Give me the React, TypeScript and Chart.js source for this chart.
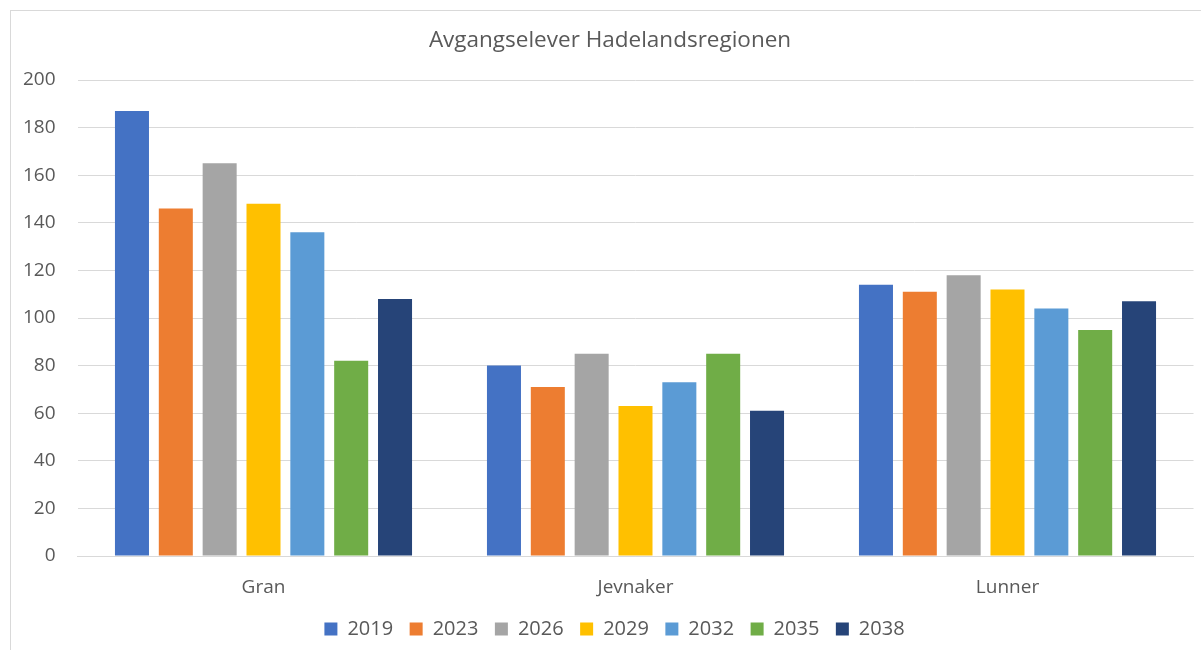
import React, { useEffect, useRef } from "react";
import { Chart, registerables } from "chart.js";

Chart.register(...registerables);

const categories = ["Gran", "Jevnaker", "Lunner"];
const years = ["2019", "2023", "2026", "2029", "2032", "2035", "2038"];
const v2019 = [187, 80, 114];
const v2023 = [146, 71, 111];
const v2026 = [165, 85, 118];
const v2029 = [148, 63, 112];
const v2032 = [136, 73, 104];
const v2035 = [82, 85, 95];
const v2038 = [108, 61, 107];
const colors = ["#4472C4", "#ED7D31", "#A5A5A5", "#FFC000", "#5B9BD5", "#70AD47", "#264478"];
const yTicks = [0, 20, 40, 60, 80, 100, 120, 140, 160, 180, 200];

const FONT = "'Open Sans', 'Noto Sans', sans-serif";

const shiftBoxes = {
  id: "shiftBoxes",
  afterLayout(chart: any) {
    const t = chart.titleBlock;
    if (t) { t.left += 7.75; t.right += 7.75; }
    const l = chart.legend;
    if (l) { l.left += 12.25; l.right += 12.25; }
  },
};

export default function App() {
  const ref = useRef<HTMLCanvasElement | null>(null);
  useEffect(() => {
    if (!ref.current) return;
    const series = [v2019, v2023, v2026, v2029, v2032, v2035, v2038];
    const chart = new Chart(ref.current, {
      type: "bar",
      data: {
        labels: categories,
        datasets: years.map((y, i) => ({
          label: y,
          data: series[i],
          backgroundColor: colors[i],
          borderWidth: 0,
          categoryPercentage: 0.825,
          barPercentage: 0.776,
        })),
      },
      plugins: [shiftBoxes],
      options: {
        animation: false,
        responsive: false,
        maintainAspectRatio: false,
        layout: { padding: { left: 0, right: 7.5, top: 0, bottom: 1 } },
        plugins: {
          title: {
            display: true,
            text: "Avgangselever Hadelandsregionen",
            color: "#595959",
            font: { family: FONT, size: 22.5, weight: "normal" },
            padding: { top: 16, bottom: 26 },
          },
          legend: {
            position: "bottom",
            labels: {
              color: "#595959",
              font: { family: FONT, size: 20 },
              boxWidth: 13,
              boxHeight: 13,
              padding: 16.5,
            },
          },
          tooltip: { enabled: false },
        },
        scales: {
          x: {
            grid: { display: false, drawTicks: false },
            border: { display: true, color: "#d9d9d9", width: 1 },
            ticks: { color: "#595959", font: { family: FONT, size: 19 }, padding: 20 },
            afterFit: (s: any) => { s.height = 46.5; },
          },
          y: {
            min: 0,
            max: 200,
            afterBuildTicks: (s: any) => { s.ticks = yTicks.map((v) => ({ value: v })); },
            grid: { color: "#d9d9d9", drawTicks: false },
            border: { display: false },
            ticks: { color: "#595959", font: { family: FONT, size: 19 }, padding: 22 },
            afterFit: (s: any) => { s.width = 66.5; },
          },
        },
      },
    });
    return () => chart.destroy();
  }, []);
  return (
    <div style={{ position: "absolute", left: 0, top: 0, width: 1201, height: 650, background: "#fff", overflow: "hidden" }}>
      <div style={{ position: "absolute", left: 10, top: 10, width: 1191, height: 640, borderTop: "1px solid #d9d9d9", borderLeft: "1px solid #d9d9d9", boxSizing: "border-box" }} />
      <canvas ref={ref} width={1190} height={639} style={{ display: "block", position: "absolute", left: 11, top: 11 }} />
    </div>
  );
}
